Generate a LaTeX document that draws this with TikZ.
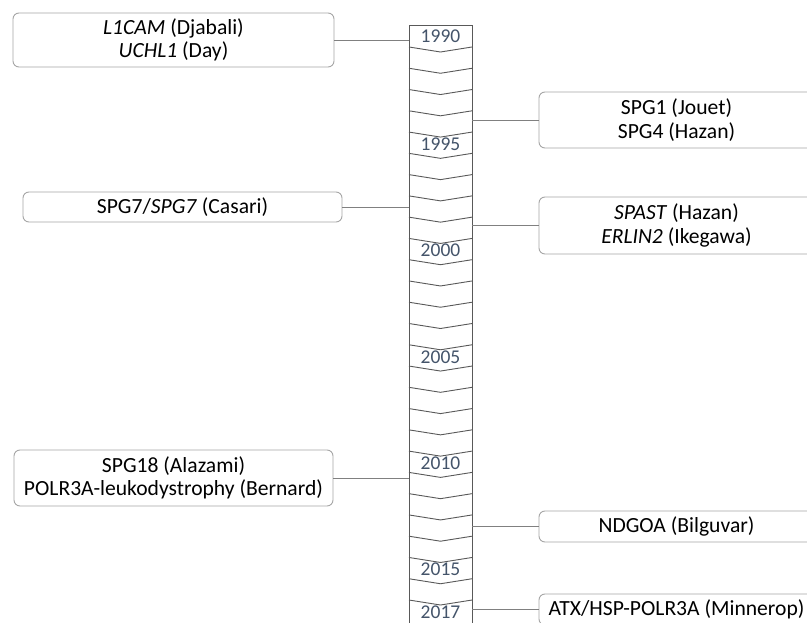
\documentclass[tikz,border=0pt]{standalone}
\usepackage{fontspec}
\setmainfont{Carlito}
\definecolor{yearc}{HTML}{44546A}
\definecolor{boxc}{HTML}{A6A6A6}
\definecolor{linec}{HTML}{808080}
\definecolor{colc}{HTML}{595959}
\begin{document}
\begin{tikzpicture}[x=1pt,y=-1pt,
  evt/.style={draw=boxc, line width=0.9pt, rounded corners=6pt, fill=white, align=center,
    font=\fontsize{21.6}{23.5}\selectfont, inner sep=0pt, text=black},
  link/.style={draw=linec, line width=0.9pt},
  colline/.style={draw=colc, line width=0.9pt},
  yr/.style={font=\fontsize{19.5}{19.5}\selectfont, text=yearc, inner sep=0pt}]
\useasboundingbox (0,0) rectangle (807,623);
\clip (0,0) rectangle (807,623);
\fill[white] (0,0) rectangle (807,623);
% timeline column
\coordinate (colL) at (409,0);
\coordinate (colR) at (472,0);
\draw[colline] (409,640) -- (409,25) -- (472,25) -- (472,640);
\foreach \k in {0,...,26}{
  \pgfmathsetmacro{\b}{47+21.27*\k}
  \draw[colline] (409,\b) -- (440.5,\b+5) -- (472,\b);
}
\node[yr] (y1990) at (440.5,36) {1990};
\foreach \yr/\i in {1995/5,2000/10,2005/15,2010/20,2015/25,2017/27}{
  \pgfmathsetmacro{\c}{59.1+21.27*(\i-1)}
  \node[yr] (y\yr) at (440.5,\c) {\yr};
}
% events
\node[evt, minimum width=321pt, minimum height=54pt] (e1) at (173.5,40)
  {\textit{L1CAM} (Djabali)\\\textit{UCHL1} (Day)};
\node[evt, minimum width=275pt, minimum height=56pt] (e2) at (676.5,120)
  {SPG1 (Jouet)\\SPG4 (Hazan)};
\node[evt, minimum width=319pt, minimum height=30pt] (e3) at (182.5,207)
  {SPG7/\textit{SPG7} (Casari)};
\node[evt, minimum width=275pt, minimum height=57pt] (e4) at (676.5,225.5)
  {\textit{SPAST} (Hazan)\\\textit{ERLIN2} (Ikegawa)};
\node[evt, minimum width=319pt, minimum height=56pt] (e5) at (173.5,478)
  {SPG18 (Alazami)\\POLR3A-leukodystrophy (Bernard)};
\node[evt, minimum width=275pt, minimum height=31pt] (e6) at (676.5,526.5)
  {NDGOA (Bilguvar)};
\node[evt, minimum width=275pt, minimum height=31pt] (e7) at (676.5,609.5)
  {ATX/HSP-POLR3A (Minnerop)};
% connectors
\draw[link] (e1.east) -- (e1.east -| colL);
\draw[link] (e2.west) -- (e2.west -| colR);
\draw[link] (e3.east) -- (e3.east -| colL);
\draw[link] (e4.west) -- (e4.west -| colR);
\draw[link] (e5.east) -- (e5.east -| colL);
\draw[link] (e6.west) -- (e6.west -| colR);
\draw[link] (e7.west) -- (e7.west -| colR);
\end{tikzpicture}
\end{document}
